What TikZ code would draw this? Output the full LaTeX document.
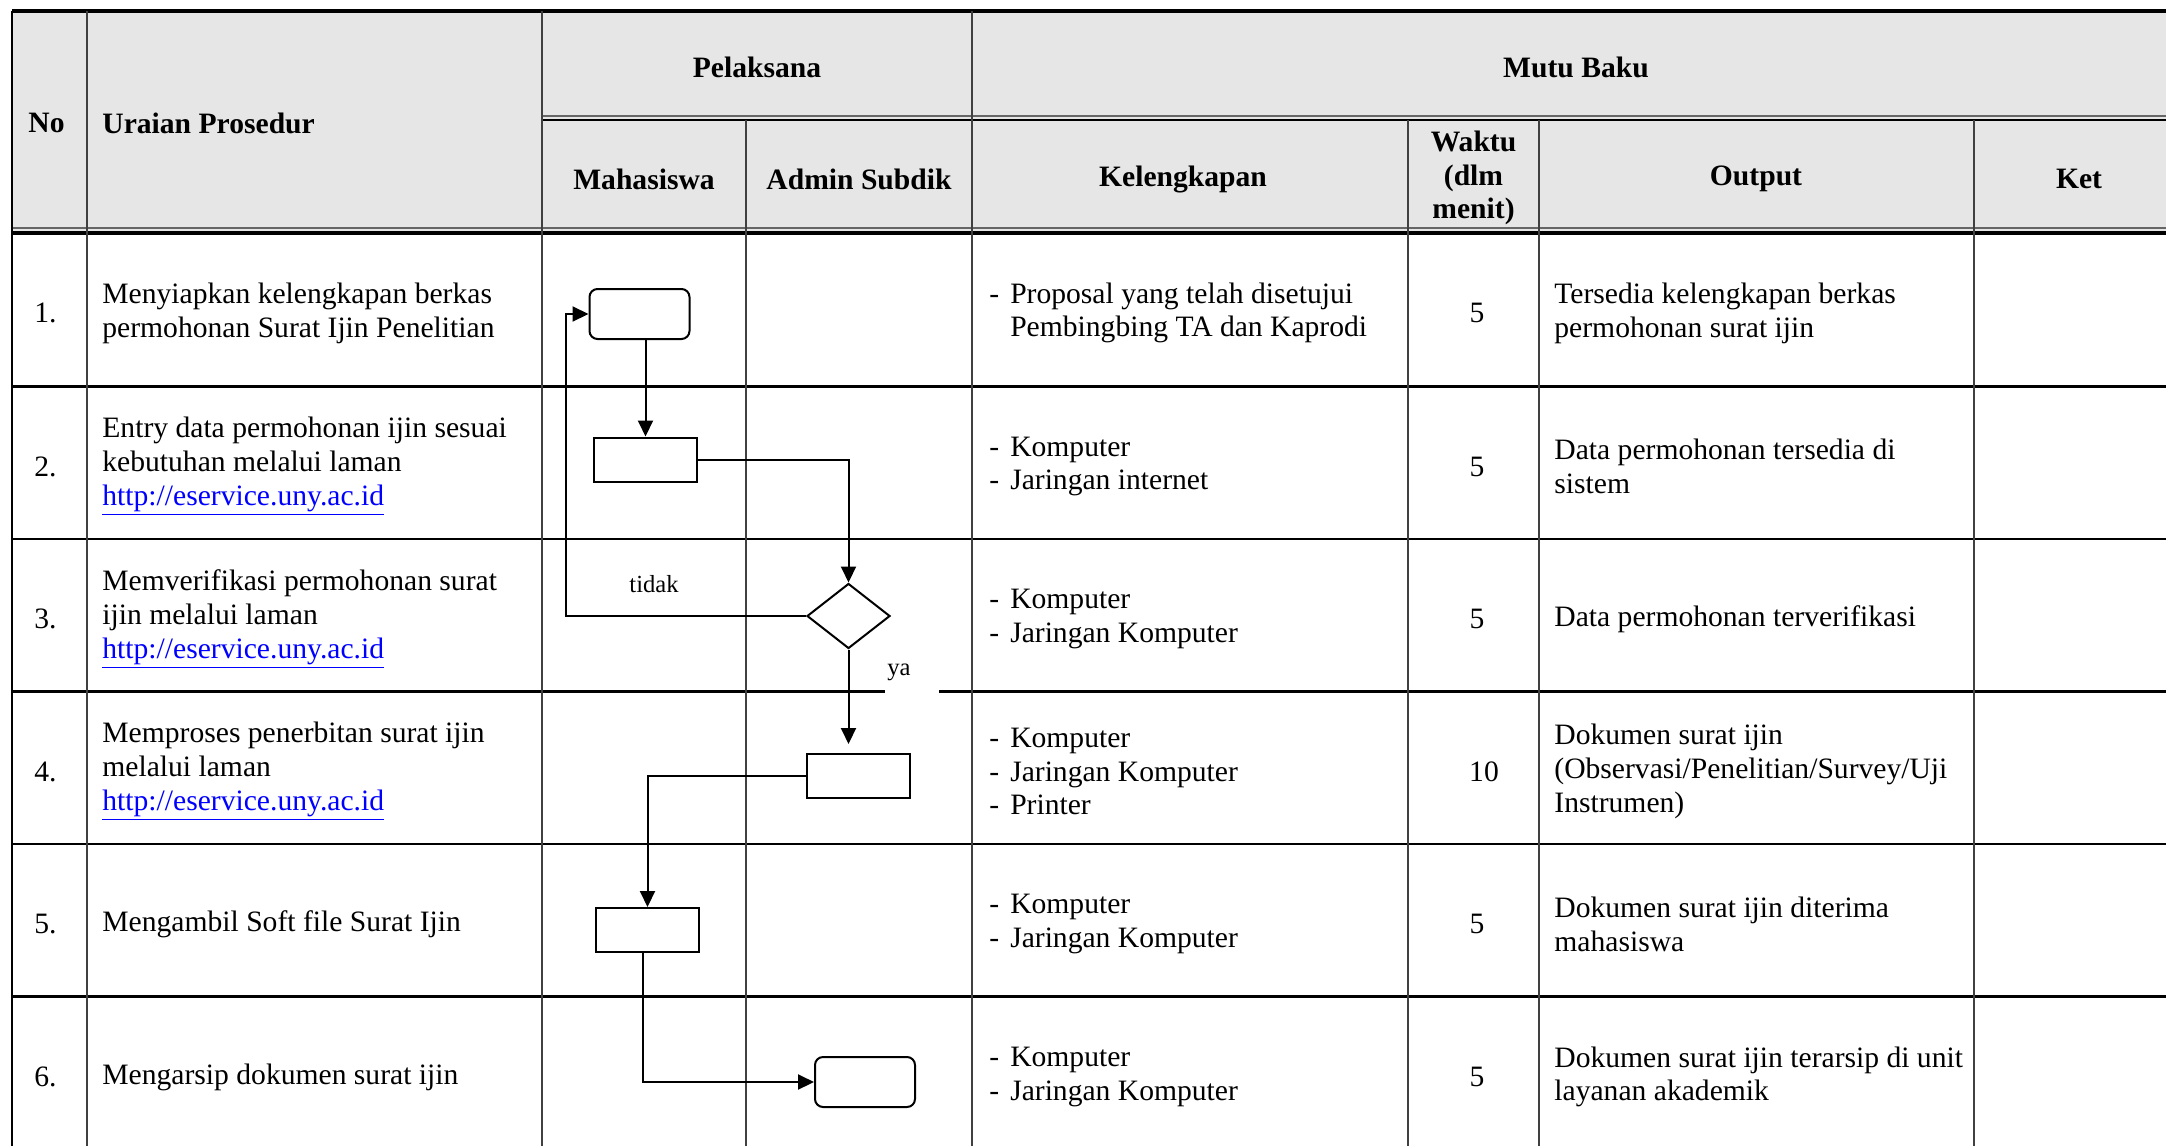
\documentclass[tikz,border=0pt]{standalone}
\usepackage{fontspec}
\setmainfont{Liberation Serif}
\usetikzlibrary{arrows.meta,shapes.geometric}
\definecolor{headfill}{HTML}{E6E6E6}
\newcommand\lnk[1]{\textcolor{blue}{\underline{#1}}}
\newcommand\dsh{-\hspace{5.5pt}}
\newcommand\ndsh{\phantom{-}\hspace{5.5pt}}
\begin{document}
\begin{tikzpicture}[x=0.5pt,y=-0.5pt,
  font=\fontsize{14.8}{16.9}\selectfont,
  hline/.style={line width=1.4pt,black},
  vline/.style={line width=0.8pt,black!75},
  cell/.style={anchor=west,align=left,inner sep=0pt},
  ctr/.style={align=center,inner sep=0pt},
  hd/.style={font=\fontsize{14.8}{16.9}\selectfont\bfseries},
  small/.style={font=\fontsize{12.3}{14}\selectfont},
  proc/.style={draw,line width=1pt,minimum width=51.5pt,minimum height=22pt,inner sep=0pt},
  term/.style={proc,rounded corners=4pt,minimum width=50pt,minimum height=25pt},
  dec/.style={diamond,draw,line width=1pt,minimum width=41.5pt,minimum height=32.5pt,inner sep=0pt},
  conn/.style={line width=1pt},
  arr/.style={line width=1pt,-{Triangle[length=8pt,width=7.5pt]}}]
\clip (0,0) rectangle (2166,1145);
\fill[white] (0,0) rectangle (2166,1145);
% header fill
\fill[headfill] (12,11) rectangle (2184,232);
% horizontal lines
\draw[line width=1.6pt] (12,11) -- (2184,11);
\draw[line width=0.6pt,black!60] (542,116) -- (2184,116);
\draw[hline] (542,120) -- (2184,120);
\draw[line width=0.6pt,black!60] (12,228) -- (2184,228);
\draw[line width=1.6pt] (12,233) -- (2184,233);
\foreach \yy in {386.5,539,691.5,844,996.5}
  \draw[hline] (12,\yy) -- (2184,\yy);
% vertical lines
\draw[line width=1.2pt] (12,11) -- (12,1150);
\foreach \xx in {87,542,972}
  \draw[vline] (\xx,11) -- (\xx,1150);
\foreach \xx in {746,1408,1539,1974}
  \draw[vline] (\xx,120) -- (\xx,1150);
% header texts
\node[hd,cell] (hNo) at (28,123) {No};
\node[hd,cell] (hUr) at (102,123) {Uraian Prosedur};
\node[hd,ctr] (hPel) at (757,67) {Pelaksana};
\node[hd,ctr] (hMutu) at (1576,67) {Mutu Baku};
\node[hd,ctr] (hMhs) at (644,179) {Mahasiswa};
\node[hd,ctr] (hAdm) at (859,179) {Admin Subdik};
\node[hd,ctr] (hKel) at (1183,179) {Kelengkapan};
\node[hd,ctr] (hWak) at (1473.5,178) {Waktu\\(dlm\\menit)};
\node[hd,ctr] (hOut) at (1756,179) {Output};
\node[hd,ctr] (hKet) at (2079,179) {Ket};
% row 1
\node[cell] (n1) at (34,313) {1.};
\node[cell] (u1) at (102,313) {Menyiapkan kelengkapan berkas\\permohonan Surat Ijin Penelitian};
\node[cell] (k1) at (989,313) {\dsh Proposal yang telah disetujui\\\ndsh Pembingbing TA dan Kaprodi};
\node[ctr] (w1) at (1477,313) {5};
\node[cell] (o1) at (1554,313) {Tersedia kelengkapan berkas\\permohonan surat ijin};
% row 2
\node[cell] (n2) at (34,466.5) {2.};
\node[cell] (u2) at (102,466.5) {Entry data permohonan ijin sesuai\\kebutuhan melalui laman\\\lnk{http://eservice.uny.ac.id}};
\node[cell] (k2) at (989,466.5) {\dsh Komputer\\\dsh Jaringan internet};
\node[ctr] (w2) at (1477,466.5) {5};
\node[cell] (o2) at (1554,466.5) {Data permohonan tersedia di\\sistem};
% row 3
\node[cell] (n3) at (34,619) {3.};
\node[cell] (u3) at (102,619) {Memverifikasi permohonan surat\\ijin melalui laman\\\lnk{http://eservice.uny.ac.id}};
\node[cell] (k3) at (989,619) {\dsh Komputer\\\dsh Jaringan Komputer};
\node[ctr] (w3) at (1477,619) {5};
\node[cell] (o3) at (1554,619) {Data permohonan terverifikasi};
% row 4
\node[cell] (n4) at (34,771.5) {4.};
\node[cell] (u4) at (102,771.5) {Memproses penerbitan surat ijin\\melalui laman\\\lnk{http://eservice.uny.ac.id}};
\node[cell] (k4) at (989,771.5) {\dsh Komputer\\\dsh Jaringan Komputer\\\dsh Printer};
\node[ctr] (w4) at (1484,771.5) {10};
\node[cell] (o4) at (1554,771.5) {Dokumen surat ijin\\(Observasi/Penelitian/Survey/Uji\\Instrumen)};
% row 5
\node[cell] (n5) at (34,924) {5.};
\node[cell] (u5) at (102,924) {Mengambil Soft file Surat Ijin};
\node[cell] (k5) at (989,924) {\dsh Komputer\\\dsh Jaringan Komputer};
\node[ctr] (w5) at (1477,924) {5};
\node[cell] (o5) at (1554,924) {Dokumen surat ijin diterima\\mahasiswa};
% row 6
\node[cell] (n6) at (34,1077) {6.};
\node[cell] (u6) at (102,1077) {Mengarsip dokumen surat ijin};
\node[cell] (k6) at (989,1077) {\dsh Komputer\\\dsh Jaringan Komputer};
\node[ctr] (w6) at (1477,1077) {5};
\node[cell] (o6) at (1554,1077) {Dokumen surat ijin terarsip di unit\\layanan akademik};
% flowchart shapes
\node[term] (b1) at (639.5,314) {};
\node[proc] (b2) at (645.5,459.5) {};
\node[dec] (d3) at (848.5,616) {};
\node[proc] (b4) at (858,776) {};
\node[proc] (b5) at (647.5,930) {};
\node[term] (b6) at (865,1082) {};
\coordinate (tk) at (566,616);
% connectors
\draw[arr] (b1.south -| b2.north) -- (b2.north);
\draw[arr] (b2.east) -| (d3.north);
\draw[arr] (d3.west) -- (tk) |- (b1.west);
\draw[arr,shorten >=4.5pt] (d3.south) -- (d3.south |- b4.north);
\draw[arr] (b4.west) -| (b5.north);
\draw[arr] ([xshift=-2.5pt]b5.south) |- (b6.west);
% labels
\node[ctr,small] (tidak) at (654,584) {tidak};
\node[small,anchor=west,fill=white,inner xsep=1pt,inner ysep=0pt,text width=25pt,minimum height=23.5pt,align=left] (ya) at (885,672) {ya};
\end{tikzpicture}
\end{document}
